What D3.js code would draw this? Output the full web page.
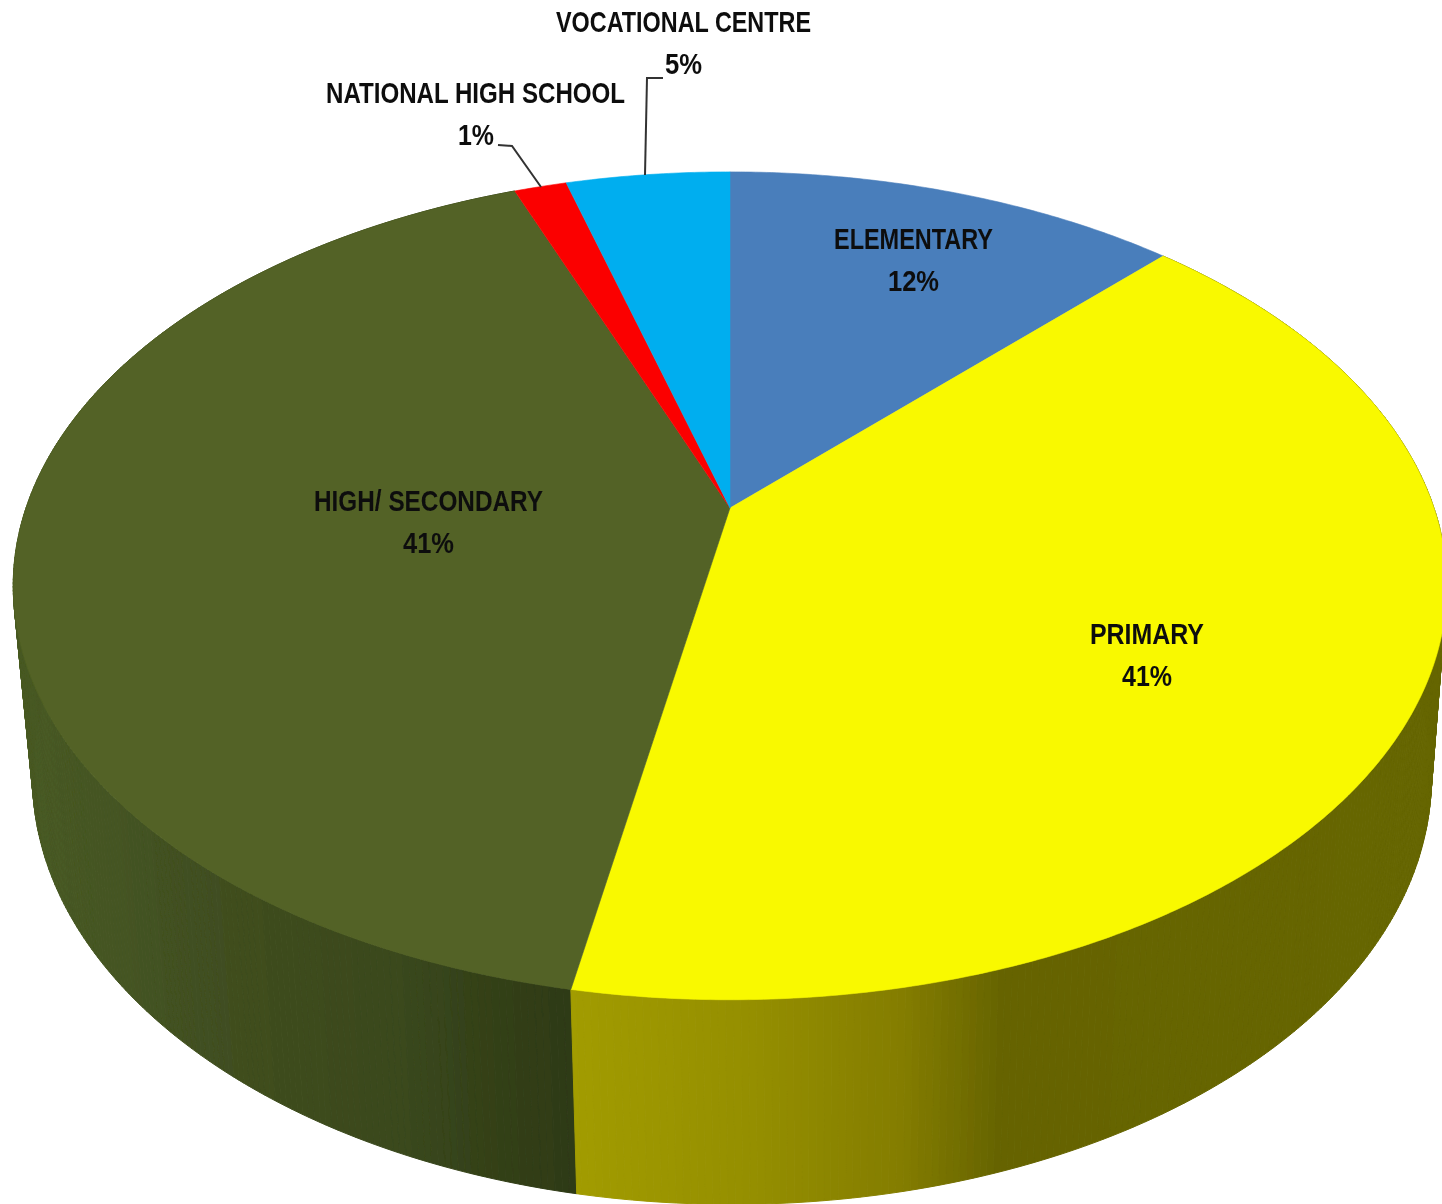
<!DOCTYPE html>
<html>
<head>
<meta charset="utf-8">
<script src="https://cdnjs.cloudflare.com/ajax/libs/d3/7.8.5/d3.min.js"></script>
<style>
html,body{margin:0;padding:0;background:#fff;overflow:hidden}
svg{display:block}
text{font-family:"Liberation Sans",Arial,sans-serif;font-weight:700;fill:#0e0e0e}
</style>
</head>
<body>
<svg id="chart" width="1442" height="1204" viewBox="0 0 1442 1204"></svg>
<script>
// ---- data ----
const categories = ["ELEMENTARY", "PRIMARY", "HIGH/ SECONDARY", "NATIONAL HIGH SCHOOL", "VOCATIONAL CENTRE"];
const shares = [12.3, 40.65, 41.2, 1.42, 4.43];
const percentLabels = ["12%", "41%", "41%", "1%", "5%"];
const topColors = ["#4a7ebb", "#f9f900", "#526225", "#fb0505", "#00aeef"];

// ---- drawing set-up ----
const svg = d3.select("#chart");
const defs = svg.append("defs");
defs.append("filter").attr("id", "soft").append("feGaussianBlur").attr("stdDeviation", 0.6);

const perspective = -0.188;
const topDisc = {x: d3.scaleLinear().domain([-1, 1]).range([730 - 704, 730 + 704]),
                 y: d3.scaleLinear().domain([-1, 1]).range([508 - 399.3, 508 + 399.3])};
const baseDisc = {x: d3.scaleLinear().domain([-1, 1]).range([732 - 687, 732 + 687]),
                  y: d3.scaleLinear().domain([-1, 1]).range([697 - 412, 697 + 412])};

function project(disc, angle) {
  const u = Math.sin(angle), v = -Math.cos(angle), w = 1 + perspective * v;
  return [disc.x(u / w), disc.y(v / w)];
}

const arcs = d3.pie().sort(null).value(d => d).startAngle(0).endAngle(2 * Math.PI)(shares);
const step = Math.PI / 360;
const anglesOf = a => d3.range(a.startAngle, a.endAngle, step).concat([a.endAngle]);

// wall shading, by horizontal position on screen
const wallShade = {
  1: d3.scaleLinear().domain([570, 760, 900, 1000, 1442])
        .range(["#a29c00", "#948e00", "#847d00", "#666400", "#666600"]).clamp(true),
  2: d3.scaleLinear().domain([20, 200, 400, 570])
        .range(["#485a22", "#414f20", "#3a481c", "#2e3a16"]).clamp(true)
};

const wallStrips = [];
arcs.forEach((a, i) => {
  if (!wallShade[i]) return;
  const angles = anglesOf(a);
  d3.pairs(angles).forEach(([s, e]) => {
    const poly = [project(topDisc, s), project(topDisc, e), project(baseDisc, e), project(baseDisc, s)];
    const midX = (poly[0][0] + poly[1][0] + poly[2][0] + poly[3][0]) / 4;
    wallStrips.push({poly, fill: wallShade[i](midX), midY: poly[2][1]});
  });
});
wallStrips.sort((a, b) => a.midY - b.midY);

const outline = d3.line();
const art = svg.append("g").attr("filter", "url(#soft)");
art.append("g").selectAll("path").data(wallStrips).join("path")
  .attr("d", d => outline(d.poly) + "Z")
  .attr("fill", d => d.fill)
  .attr("stroke", d => d.fill)
  .attr("stroke-width", 1);

art.append("g").selectAll("path").data(arcs).join("path")
  .attr("d", a => outline([[topDisc.x(0), topDisc.y(0)]].concat(anglesOf(a).map(t => project(topDisc, t)))) + "Z")
  .attr("fill", (a, i) => topColors[i])
  .attr("stroke", (a, i) => topColors[i])
  .attr("stroke-width", 0.6);

// leader lines
const leaderPaths = [
  [[498, 145], [512, 146], [541, 187]],
  [[663, 78], [647, 78], [645, 175]]
];
art.append("g").selectAll("path").data(leaderPaths).join("path")
  .attr("d", outline).attr("fill", "none").attr("stroke", "#333").attr("stroke-width", 2);

// labels: [centre x, name baseline, name width, value baseline, value width]
const labelCentreX = [913.5, 1147, 428.5, 475.5, 683.5];
const labelNameY = [249, 644, 511, 103, 32];
const labelNameW = [159, 114, 229, 299, 255];
const labelValueX = [913.5, 1147, 428.5, 476, 683.5];
const labelValueY = [291, 686, 553, 145, 74];
const labelValueW = [51, 50, 51, 36, 37];

const texts = svg.append("g").attr("filter", "url(#soft)").style("font-size", "30px");
categories.forEach((name, i) => {
  texts.append("text").attr("text-anchor", "middle")
    .attr("x", labelCentreX[i]).attr("y", labelNameY[i])
    .attr("textLength", labelNameW[i]).attr("lengthAdjust", "spacingAndGlyphs").text(name);
  texts.append("text").attr("text-anchor", "middle")
    .attr("x", labelValueX[i]).attr("y", labelValueY[i])
    .attr("textLength", labelValueW[i]).attr("lengthAdjust", "spacingAndGlyphs").text(percentLabels[i]);
});
</script>
</body>
</html>
